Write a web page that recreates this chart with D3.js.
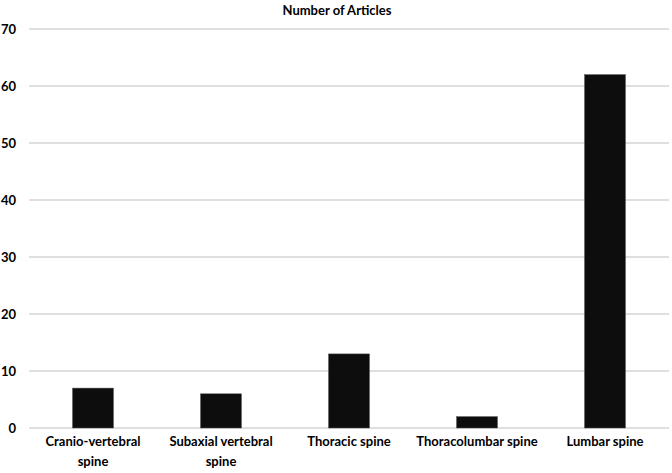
<!DOCTYPE html>
<html><head><meta charset="utf-8">
<script src="https://cdn.jsdelivr.net/npm/d3@7"></script>
<style>body{margin:0;background:#fff;} text{font-family:Lato,"Open Sans",sans-serif;font-weight:bold;fill:#000;}</style>
</head><body>
<svg id="c" width="672" height="473"></svg>
<script>
const categories = [["Cranio-vertebral","spine"],["Subaxial vertebral","spine"],["Thoracic spine"],["Thoracolumbar spine"],["Lumbar spine"]];
const values = [7, 6, 13, 2, 62];
const yTicks = [0,10,20,30,40,50,60,70];
const title = "Number of Articles";

const svg = d3.select("#c");
const x = d3.scaleBand().domain(d3.range(values.length)).range([29,669]).paddingInner(0.68).paddingOuter(0.34);
const y = d3.scaleLinear().domain([0,70]).range([428,29]);

svg.append("g").selectAll("line").data(yTicks).join("line")
  .attr("x1",29).attr("x2",669).attr("y1",d=>y(d)).attr("y2",d=>y(d))
  .attr("stroke","#c0c0c0").attr("stroke-width",1.2);

svg.append("g").selectAll("text").data(yTicks).join("text")
  .attr("x",16).attr("y",d=>y(d)+4.5).attr("text-anchor","end").attr("font-size",13).text(d=>d);

svg.append("g").selectAll("rect").data(values).join("rect")
  .attr("x",(d,i)=>x(i)).attr("width",x.bandwidth())
  .attr("y",d=>y(d)).attr("height",d=>y(0)-y(d))
  .attr("fill","#0d0d0d").attr("stroke","#555").attr("stroke-width",0.5);

const lab = svg.append("g").selectAll("text").data(categories).join("text")
  .attr("text-anchor","middle").attr("font-size",13)
  .attr("transform",(d,i)=>`translate(${x(i)+x.bandwidth()/2},446)`);
lab.selectAll("tspan").data(d=>d).join("tspan").attr("x",0).attr("dy",(d,j)=>j?20:0).text(d=>d);

svg.append("text").attr("x",337).attr("y",15).attr("text-anchor","middle").attr("font-size",13).text(title);
</script>
</body></html>
